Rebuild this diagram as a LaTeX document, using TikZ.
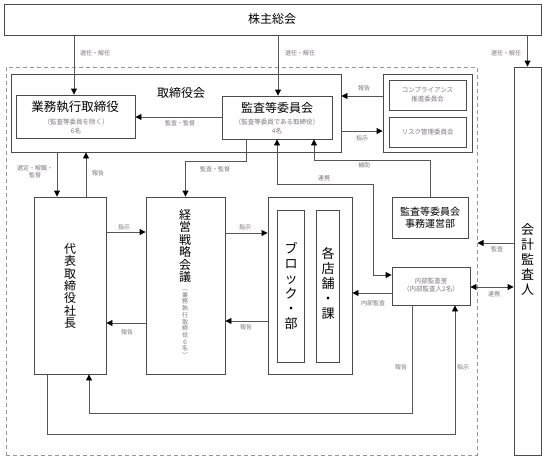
\documentclass[tikz,border=0pt]{standalone}
\usepackage{fontspec}
\setmainfont{Noto Sans CJK JP}
\usetikzlibrary{arrows.meta,calc}
\definecolor{boxc}{RGB}{75,75,75}
\definecolor{linec}{RGB}{85,85,85}
\definecolor{lblc}{RGB}{125,118,125}
\definecolor{dashc}{RGB}{150,150,150}
\tikzset{
  boxst/.style={draw=boxc, line width=0.9pt, fill=white, inner sep=0pt},
  con/.style={draw=linec, line width=0.9pt},
  arr/.style={con, -{Triangle[length=6pt,width=6pt,color=black]}},
  darr/.style={con, {Triangle[length=6pt,width=6pt,color=black]}-{Triangle[length=6pt,width=6pt,color=black]}},
  lbl/.style={font=\fontsize{6}{7}\selectfont, text=lblc, inner sep=0pt, align=center},
  sub/.style={font=\fontsize{6.5}{8.5}\selectfont, text=lblc, inner sep=0pt, align=center},
  ttl/.style={font=\fontsize{12}{14}\selectfont, inner sep=0pt},
  vt12/.style={font=\fontsize{12}{12.4}\selectfont, inner sep=0pt, align=center},
  vt13/.style={font=\fontsize{13}{15}\selectfont, inner sep=0pt, align=center},
  vsub/.style={font=\fontsize{6}{6.7}\selectfont, text=lblc, inner sep=0pt, align=center},
}
\newcommand\mybox[5]{\node[boxst, minimum width={(#4-#2)*1pt}, minimum height={(#5-#3)*1pt}] (#1) at ({(#2+#4)/2},{(#3+#5)/2}) {};}
\begin{document}
\begin{tikzpicture}[x=1pt,y=-1pt]
\useasboundingbox (0,0) rectangle (548,460);
% helper coordinates
\foreach \v in {47,57,74,86,89,246,278,314,373,412,455}{\coordinate (X\v) at (\v,0);}
\foreach \v in {96,117,131,160,161,184,232,233,243,275,287,293,321,323,413,434}{\coordinate (Y\v) at (0,\v);}

% dashed outer frame
\node[draw=dashc, line width=1pt, dash pattern=on 4pt off 3pt, inner sep=0pt,
      minimum width=471pt, minimum height=388pt] (outer) at (241.5,261) {};

% boxes
\mybox{kabu}{4}{4}{541}{35}
\node[ttl] (kabuT) at (272,19) {株主総会};
\mybox{tori}{11}{74}{341}{152}
\node[ttl] (toriT) at (181,93) {取締役会};
\mybox{gyomu}{16}{95}{135}{138}
\node[font=\fontsize{12.5}{14}\selectfont, inner sep=0pt] (gyomuT) at (75,107) {業務執行取締役};
\node[sub] (gyomuS) at (76,122) {（監査等委員を除く）};
\node[sub] (gyomuN) at (76,131) {6名};
\mybox{kansa}{222}{96}{332}{139}
\node[ttl] (kansaT) at (277,108) {監査等委員会};
\node[sub] (kansaS) at (277,122) {（監査等委員である取締役）};
\node[sub] (kansaN) at (277,131) {4名};
\mybox{grp}{383}{74}{472}{152}
\mybox{comp}{389}{80}{466}{110}
\node[sub, font=\fontsize{6.5}{9}\selectfont] (compT) at (427.5,95) {コンプライアンス\\推進委員会};
\mybox{risk}{389}{117}{466}{147}
\node[sub] (riskT) at (427.5,132) {リスク管理委員会};
\mybox{daihyo}{34}{197}{106}{374}
\node[vt12] (daihyoT) at (70,286) {代\\表\\取\\締\\役\\社\\長};
\mybox{keiei}{146}{197}{225}{374}
\node[vt12] (keieiT) at (185,246) {経\\営\\戦\\略\\会\\議};
\node[vsub] (keieiS) at (185,323.5) {︵\\業\\務\\執\\行\\取\\締\\役\\６\\名\\︶};
\mybox{blk}{268}{197}{352}{374}
\mybox{blkA}{277}{210}{304}{362}
\node[vt13] (blkAT) at (291,285.5) {ブ\\ロ\\ッ\\ク\\・\\部};
\mybox{blkB}{316}{210}{339}{362}
\node[vt13] (blkBT) at (328,283.5) {各\\店\\舗\\・\\課};
\mybox{jimu}{392}{197}{468}{238}
\node[font=\fontsize{10}{11.5}\selectfont, inner sep=0pt, align=center] (jimuT) at (430,217.5) {監査等委員会\\事務運営部};
\mybox{naibu}{392}{267}{470}{305}
\node[sub] (naibuT) at (431,285) {内部監査室\\（内部監査人2名）};
\mybox{kaikei}{514}{67}{541}{455}
\node[vt13] (kaikeiT) at (527.5,260) {会\\計\\監\\査\\人};

% connectors from 株主総会
\draw[arr] (kabu.south -| X74) -- (gyomu.north -| X74);
\draw[arr] (kabu.south -| X278) -- (kansa.north -| X278);
\draw[arr] (kabu.south -| kaikei.north) -- (kaikei.north);
\node[lbl] (l1) at (95,53) {選任・解任};
\node[lbl] (l2) at (300,53) {選任・解任};
\node[lbl] (l3) at (506,53) {選任・解任};

% 取締役会 right side
\draw[arr] (grp.west |- Y96) -- (tori.east |- Y96);
\node[lbl] (l4) at (364,88) {報告};
\draw[arr] (tori.east |- Y131) -- (grp.west |- Y131);
\node[lbl] (l5) at (362,138) {指示};

% 監査・監督 to 業務執行取締役
\draw[arr] (kansa.west |- Y117) -- (gyomu.east |- Y117);
\node[lbl] (l6) at (180,123) {監査・監督};

% 取締役会 <-> 代表取締役社長
\draw[arr] (tori.south -| X57) -- (daihyo.north -| X57);
\node[lbl] (l7) at (35,172) {選定・解職・\\監督};
\draw[arr] (daihyo.north -| X86) -- (tori.south -| X86);
\node[lbl] (l8) at (98,173) {報告};

% 監査等委員会 -> 経営戦略会議
\draw[arr] (kansa.south -| X246) -- (X246 |- Y161) -- (keiei.north |- Y161) -- (keiei.north);
\node[lbl] (l9) at (215,169) {監査・監督};

% 補助
\draw[arr] (jimu.north) -- (jimu.north |- Y160) -- (X314 |- Y160) -- (kansa.south -| X314);
\node[lbl] (l10) at (364,165) {補助};

% 連携 監査等委員会 <-> 内部監査室
\draw[darr] (kansa.south) -- (kansa.south |- Y184) -- (X373 |- Y184) -- (X373 |- Y275) -- (naibu.west |- Y275);
\node[lbl] (l11) at (324,178) {連携};

% 指示 / 報告 between middle boxes
\draw[arr] (daihyo.east |- Y232) -- (keiei.west |- Y232);
\node[lbl] (l12) at (124,227) {指示};
\draw[arr] (keiei.east |- Y233) -- (blk.west |- Y233);
\node[lbl] (l13) at (245,227) {指示};
\draw[arr] (keiei.west |- Y323) -- (daihyo.east |- Y323);
\node[lbl] (l14) at (127,332) {報告};
\draw[arr] (blk.west |- Y321) -- (keiei.east |- Y321);
\node[lbl] (l15) at (246,327) {報告};

% 内部監査
\draw[arr] (naibu.west |- Y293) -- (blk.east |- Y293);
\node[lbl] (l16) at (373,303) {内部監査};

% 会計監査人
\draw[arr] (kaikei.west |- Y243) -- (outer.east |- Y243);
\node[lbl] (l17) at (497,249) {監査};
\draw[darr] (naibu.east |- Y287) -- (kaikei.west |- Y287);
\node[lbl] (l18) at (494,294) {連携};

% bottom loops
\draw[arr] (naibu.south -| X412) -- (X412 |- Y413) -- (X89 |- Y413) -- (daihyo.south -| X89);
\node[lbl] (l19) at (401,367) {報告};
\draw[arr] (daihyo.south -| X47) -- (X47 |- Y434) -- (X455 |- Y434) -- (naibu.south -| X455);
\node[lbl] (l20) at (463,367) {指示};
\end{tikzpicture}
\end{document}
